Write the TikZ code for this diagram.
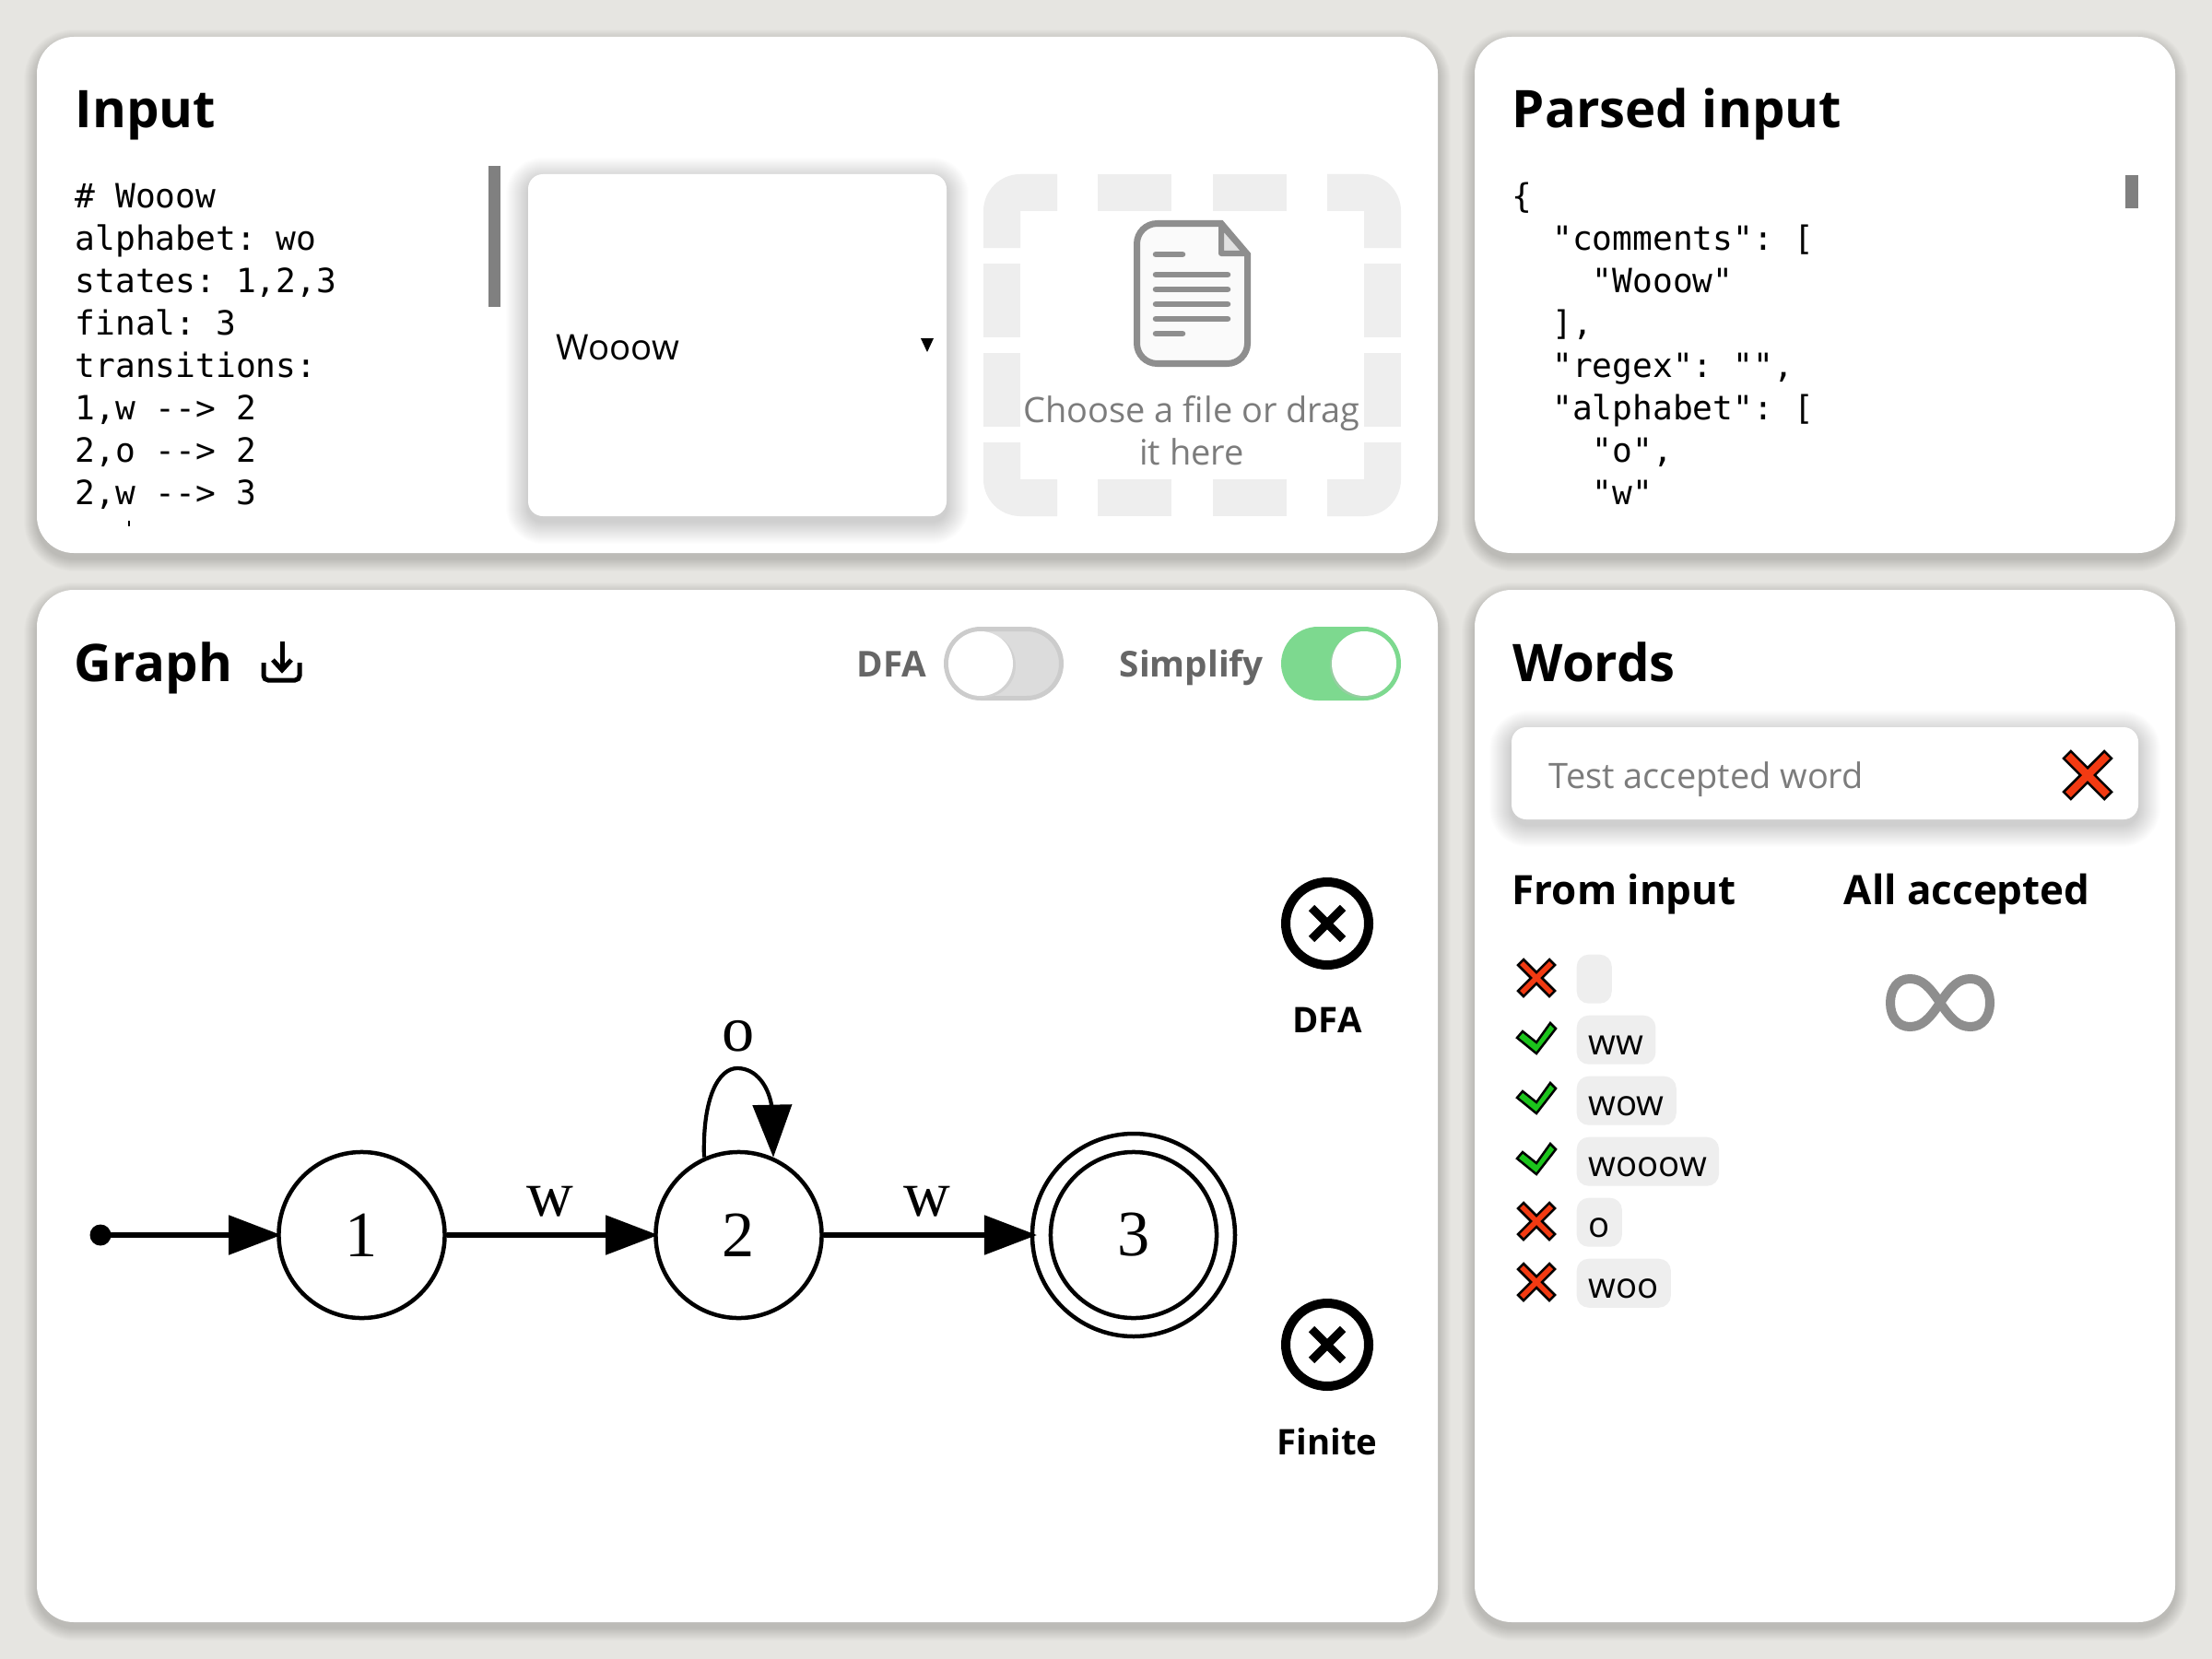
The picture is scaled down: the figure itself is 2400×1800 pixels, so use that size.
\documentclass[tikz,border=0pt]{standalone}
\usepackage{fontspec}
\setmainfont{Open Sans}
\setmonofont{DejaVu Sans Mono}
\newfontfamily\gvfont{Liberation Serif}
\usetikzlibrary{arrows.meta,positioning}
\definecolor{pagebg}{HTML}{E6E5E1}
\definecolor{chipbg}{HTML}{EEEEEE}
\definecolor{barcol}{HTML}{808080}
\definecolor{hintcol}{HTML}{7C7C7C}
\definecolor{labcol}{HTML}{666666}
\definecolor{iconcol}{HTML}{8E8E8E}
\definecolor{offfill}{HTML}{DCDCDC}
\definecolor{offline}{HTML}{CCCCCC}
\definecolor{onfill}{HTML}{7DD98F}
\definecolor{badcol}{HTML}{F23A12}
\definecolor{okcol}{HTML}{1CC41C}
\newcommand{\softshadow}[7]{% x1 y1 x2 y2 radius reach opacity
  \foreach \s in {#6,...,1}
    \fill[black, opacity=#7, rounded corners=#5cm+\s*0.01cm]
      (#1-\s,#2-\s+6) rectangle (#3+\s,#4+\s+6);
}
\tikzset{
  card/.style={fill=white, rounded corners=0.4cm},
  boxcard/.style={fill=white, rounded corners=0.16cm},
  head/.style={font=\fontsize{16}{16}\selectfont\bfseries, anchor=base west, inner sep=0pt},
  subhead/.style={font=\fontsize{12.5}{12.5}\selectfont\bfseries, anchor=base west, inner sep=0pt},
  toglab/.style={font=\fontsize{11}{11}\selectfont\bfseries, text=labcol, anchor=base west, inner sep=0pt},
  reslab/.style={font=\fontsize{10.9}{10.9}\selectfont\bfseries, anchor=base, inner sep=0pt},
  code/.style={font=\fontsize{10.3}{13.08}\selectfont\ttfamily, align=left, anchor=north west, inner sep=0pt},
  plain/.style={font=\fontsize{10.9}{13.08}\selectfont, anchor=base west, inner sep=0pt},
  hint/.style={font=\fontsize{10.8}{13.08}\selectfont, text=hintcol, align=center, inner sep=0pt},
  chip/.style={fill=chipbg, rounded corners=0.13cm, anchor=north west, inner xsep=0.13cm, inner ysep=0pt,
    text height=0.425cm, text depth=0.105cm, minimum width=0.38cm, font=\fontsize{10.9}{10.9}\selectfont},
  seg/.style={fill=chipbg},
  state/.style={draw, circle, line width=0.045cm, minimum size=1.8cm, inner sep=0pt,
    font=\fontsize{20}{20}\gvfont},
  edgelab/.style={font=\fontsize{20}{20}\gvfont, anchor=base, inner sep=0pt},
  flow/.style={-{Triangle[length=0.57cm,width=0.42cm]}, line width=0.052cm, shorten >=-0.05cm},
  loopflow/.style={-{Triangle[length=0.57cm,width=0.42cm]}, line width=0.042cm},
  pics/badmark/.style={code={
    \filldraw[fill=badcol, draw=black, line width=0.025cm, scale=#1]
      (-20,-14) -- (-14,-20) -- (0,-6) -- (14,-20) -- (20,-14) -- (6,0) -- (20,14)
      -- (14,20) -- (0,6) -- (-14,20) -- (-20,14) -- (-6,0) -- cycle;
  }},
  pics/okmark/.style={code={
    \filldraw[fill=okcol, draw=black, line width=0.025cm]
      (-21,-1) -- (-15,-8) -- (0,4) -- (15,-17) -- (21,-11) -- (0,16) -- cycle;
  }},
  pics/failicon/.style={code={
    \draw[line width=0.1cm] (0,0) circle (45);
    \draw[line width=0.09cm] (-17,-17) -- (17,17) (-17,17) -- (17,-17);
  }},
}

\begin{document}
\begin{tikzpicture}[x=0.01cm, y=-0.01cm]
\useasboundingbox (0,0) rectangle (2400,1800);
\fill[pagebg] (0,0) rectangle (2400,1800);

% The four cards, with their soft shadows.
\softshadow{40}{40}{1560}{600}{0.4}{14}{0.012}
\softshadow{1600}{40}{2360}{600}{0.4}{14}{0.012}
\softshadow{40}{640}{1560}{1760}{0.4}{14}{0.012}
\softshadow{1600}{640}{2360}{1760}{0.4}{14}{0.012}
\fill[card] (40,40) rectangle (1560,600);
\fill[card] (1600,40) rectangle (2360,600);
\fill[card] (40,640) rectangle (1560,1760);
\fill[card] (1600,640) rectangle (2360,1760);

% Input card: the text field, its scroll bar, the select box.
\node[head] (inputhead) at (81,139) {Input};
\node[code] (inputcode) at (81,198.5) {\#~Wooow\\alphabet:~wo\\states:~1,2,3\\final:~3\\transitions:\\1,w~-{}->~2\\2,o~-{}->~2\\2,w~-{}->~3};
\fill (139,565) rectangle (141,571);
\fill[barcol] (530,180) rectangle (543,333);
\softshadow{573}{189}{1027}{560}{0.16}{24}{0.008}
\fill[boxcard] (573,189) rectangle (1027,560);
\node[plain] (selected) at (603,390) {Wooow};
\fill (999,367) -- (1013,367) -- (1006,382) -- cycle;

% Drop zone: corners first, then the dashes between them.
\fill[seg] (1147,189) -- (1107,189) arc[start angle=270, end angle=180, radius=40] -- (1067,269) -- (1107,269) -- (1107,229) -- (1147,229) -- cycle;
\fill[seg] (1440,189) -- (1480,189) arc[start angle=-90, end angle=0, radius=40] -- (1520,269) -- (1480,269) -- (1480,229) -- (1440,229) -- cycle;
\fill[seg] (1147,560) -- (1107,560) arc[start angle=90, end angle=180, radius=40] -- (1067,480) -- (1107,480) -- (1107,520) -- (1147,520) -- cycle;
\fill[seg] (1440,560) -- (1480,560) arc[start angle=90, end angle=0, radius=40] -- (1520,480) -- (1480,480) -- (1480,520) -- (1440,520) -- cycle;
\fill[seg] (1191,189) rectangle (1271,229);
\fill[seg] (1316,189) rectangle (1396,229);
\fill[seg] (1191,520) rectangle (1271,560);
\fill[seg] (1316,520) rectangle (1396,560);
\fill[seg] (1067,286) rectangle (1107,366);
\fill[seg] (1067,383) rectangle (1107,463);
\fill[seg] (1480,286) rectangle (1520,366);
\fill[seg] (1480,383) rectangle (1520,463);

% File icon.
\filldraw[fill=black!2, draw=iconcol, line width=0.07cm]
  (1325,242.5) -- (1353.5,276) [rounded corners=0.22cm] -- (1353.5,394.5) -- (1233.5,394.5)
  -- (1233.5,242.5) [sharp corners] -- cycle;
\filldraw[fill=black!12, draw=iconcol, line width=0.06cm, line join=round]
  (1325,244) -- (1325,275) -- (1352,275) -- cycle;
\draw[iconcol, line width=0.065cm, line cap=round]
  (1254,276) -- (1283,276)
  (1254,298) -- (1332,298)
  (1254,314) -- (1332,314)
  (1254,330) -- (1332,330)
  (1254,346) -- (1332,346)
  (1254,362) -- (1283,362);
\node[hint] (drophint) at (1293,467) {Choose a file or drag\\it here};

% Parsed input card.
\node[head] (parsedhead) at (1640,139) {Parsed input};
\node[code] (parsedcode) at (1640,197) {\{\\~~"comments":~[\\~~~~"Wooow"\\~~],\\~~"regex":~"",\\~~"alphabet":~[\\~~~~"o",\\~~~~"w"};
\fill[barcol] (2306,190) rectangle (2320,226);

% Graph card, top row.
\node[head] (graphhead) at (80,739) {Graph};
\draw[line width=0.05cm] (306,696) -- (306,727);
\draw[line width=0.05cm] (296,716) -- (306,727) -- (316,716);
\draw[line width=0.05cm, rounded corners=0.05cm] (286,719) -- (286,738) -- (325,738) -- (325,719);

\node[toglab] (doflab) at (929,734) {DFA};
\filldraw[fill=offfill, draw=offline, line width=0.05cm, rounded corners=0.375cm] (1026.5,682.5) rectangle (1151.5,757.5);
\fill[black!18] (1067,722) circle (35);
\fill[white] (1064,720) circle (35);
\node[toglab] (simplab) at (1214,734) {Simplify};
\fill[onfill, rounded corners=0.4cm] (1390,680) rectangle (1520,760);
\fill[black!25, opacity=0.4] (1478,722) circle (35);
\fill[white] (1480,720) circle (35);

\pic at (1440,1002) {failicon};
\node[reslab] (dfares) at (1440,1120) {DFA};
\pic at (1440,1459) {failicon};
\node[reslab] (finiteres) at (1440,1578) {Finite};

% The automaton itself.
\coordinate (start) at (109,1340);
\fill (start) circle (11.5);
\node[state] (n1) at (392.5,1340) {1};
\node[state] (n2) at (801.5,1340) {2};
\node[state] (n3) at (1230,1340) {3};
\draw[line width=0.045cm] (n3) circle (110);
\coordinate (n3in) at (1120,1340);
\draw[flow] (start) -- (n1);
\draw[flow] (n1) -- (n2);
\draw[flow] (n2) -- (n3in);
\draw[loopflow] (n2.114) .. controls (762,1190) and (780,1159) .. (800,1159)
  .. controls (820,1159) and (835,1178) .. (838,1205) -- (n2.66);
\node[edgelab] (lab12) at (597,1319) {w};
\node[edgelab] (lab23) at (1006,1319) {w};
\node[edgelab] (lab22) at (801,1140) {o};

% Words card.
\node[head] (wordshead) at (1641,739) {Words};
\softshadow{1640}{789}{2320}{889}{0.18}{24}{0.008}
\fill[boxcard] (1640,789) rectangle (2320,889);
\node[hint, anchor=base west] (wordhint) at (1680,855) {Test accepted word};
\pic at (2265,841) {badmark=1.3};

\node[subhead] (frominput) at (1640,981) {From input};
\node[subhead] (allacc) at (2000,981) {All accepted};

\pic at (1667,1061) {badmark=1};
\node[chip] (w0) at (1710,1035) {};
\pic at (1667,1127) {okmark};
\node[chip] (w1) at (1710,1101) {ww};
\pic at (1667,1192) {okmark};
\node[chip] (w2) at (1710,1167) {wow};
\pic at (1667,1258) {okmark};
\node[chip] (w3) at (1710,1233) {wooow};
\pic at (1667,1325) {badmark=1};
\node[chip] (w4) at (1710,1299) {o};
\pic at (1667,1391) {badmark=1};
\node[chip] (w5) at (1710,1365) {woo};

% Infinity sign.
\draw[iconcol, line width=0.1cm, shift={(2105,1088)}]
  (0,0) .. controls (12,-18) and (20,-26) .. (33,-26)
  .. controls (46,-26) and (54,-15) .. (54,0)
  .. controls (54,15) and (46,26) .. (33,26)
  .. controls (20,26) and (12,18) .. (0,0)
  .. controls (-12,-18) and (-20,-26) .. (-33,-26)
  .. controls (-46,-26) and (-54,-15) .. (-54,0)
  .. controls (-54,15) and (-46,26) .. (-33,26)
  .. controls (-20,26) and (-12,18) .. (0,0) -- cycle;

\end{tikzpicture}
\end{document}
